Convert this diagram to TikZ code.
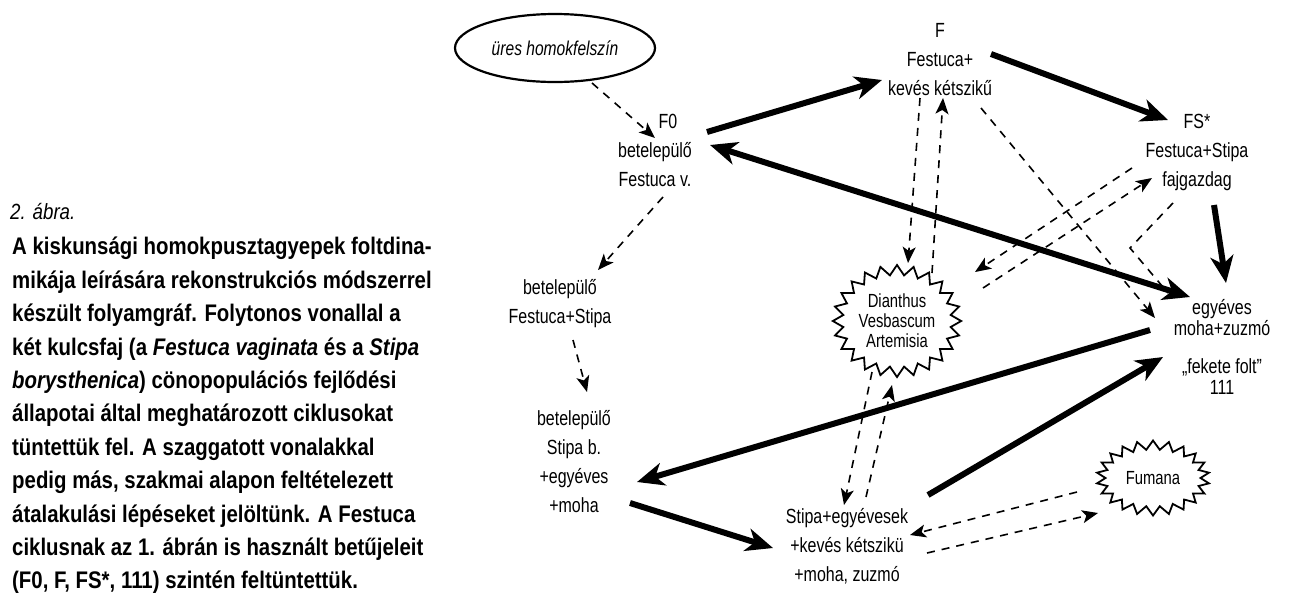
\documentclass[tikz,border=0pt]{standalone}
\usepackage{fontspec}
\setmainfont{Liberation Sans}[FakeStretch=0.78]
\newfontfamily\capfont{Liberation Sans}[FakeStretch=0.85]
\usetikzlibrary{arrows.meta,shapes.geometric,shapes.symbols,calc}
\begin{document}
\begin{tikzpicture}[x=1pt,y=-1pt,
  lbl/.style={align=center,inner sep=0pt,font=\fontsize{20.5}{29}\selectfont},
  oval/.style={ellipse,draw,line width=2.2pt,minimum width=200pt,minimum height=68pt,inner sep=0pt,font=\fontsize{20}{22}\selectfont\itshape},
  burst/.style={starburst,draw,line width=1.8pt,starburst point height=10pt,random starburst=0,inner sep=0pt,align=center,font=\fontsize{19}{20}\selectfont},
  thk/.style={line width=6pt,-{Stealth[length=27pt,width=23pt,inset=8pt]}},
  thkboth/.style={line width=6pt,{Stealth[length=27pt,width=23pt,inset=8pt]}-{Stealth[length=27pt,width=23pt,inset=8pt]}},
  dsh/.style={line width=1.6pt,dash pattern=on 8pt off 7pt,-{Stealth[length=16pt,width=13pt,inset=4pt]}},
  dshplain/.style={line width=1.6pt,dash pattern=on 8pt off 7pt}
]
\useasboundingbox (0,0) rectangle (1292,598);

% caption
\node[anchor=base west,inner sep=0pt,font=\capfont\fontsize{22}{26}\selectfont\itshape] (fig) at (10,219) {2. ábra.};
\node[anchor=north west,inner sep=0pt,align=left,font=\capfont\bfseries\fontsize{24}{33.4}\selectfont] (cap) at (12,237)
{A kiskunsági homokpusztagyepek foltdina-\\
mikája leírására rekonstrukciós módszerrel\\
készült folyamgráf. Folytonos vonallal a\\
két kulcsfaj (a {\itshape Festuca vaginata} és a {\itshape Stipa}\\
{\itshape borysthenica}) cönopopulációs fejlődési\\
állapotai által meghatározott ciklusokat\\
tüntettük fel. A szaggatott vonalakkal\\
pedig más, szakmai alapon feltételezett\\
átalakulási lépéseket jelöltünk. A Festuca\\
ciklusnak az 1. ábrán is használt betűjeleit\\
(F0, F, FS*, 111) szintén feltüntettük.};

% nodes
\node[oval] (E) at (555,48) {üres homokfelszín};
\node[lbl] (F0) at (655,150) {\hspace*{26pt}F0\\betelepülő\\Festuca v.};
\node[lbl] (F) at (940,60) {F\\Festuca+\\kevés kétszikű};
\node[lbl] (FS) at (1197,152) {FS*\\Festuca+Stipa\\fajgazdag};
\node[lbl] (BFS) at (560,304) {betelepülő\\Festuca+Stipa};
\node[lbl] (BSB) at (574,462) {betelepülő\\Stipa b.\\+egyéves\\+moha};
\node[lbl] (SE) at (847,546) {Stipa+egyévesek\\+kevés kétszikü\\+moha, zuzmó};
\node[lbl,font=\fontsize{20.5}{21}\selectfont] (EG) at (1222,347) {egyéves\\moha+zuzmó\\[17pt]„fekete folt”\\111};
\node[burst,starburst points=24,minimum width=125pt,minimum height=112pt] (D) at (897,321) {Dianthus\\Vesbascum\\Artemisia};
\node[burst,starburst points=22,starburst point height=9pt,minimum width=113pt,minimum height=75pt] (FU) at (1153,478) {Fumana};

% thick connectors (key species cycles)
\draw[thk] ($(F0)+(52,-18)$) -- ($(F)+(-58,20)$);
\draw[thk] ($(F)+(51,-6)$) -- ($(FS)+(-29,-32)$);
\draw[thk] ($(FS)+(17,53)$) -- ($(EG)+(4,-64)$);
\draw[thkboth] ($(F0)+(55,-5)$) -- ($(EG)+(-32,-50)$);
\draw[thk] ($(EG)+(-72,-17)$) -- ($(BSB)+(63,20)$);
\draw[thk] ($(BSB)+(56,41)$) -- ($(SE)+(-74,2)$);
\draw[thk] ($(SE)+(81,-51)$) -- ($(EG)+(-59,10)$);

% dashed connectors
\draw[dsh] ($(E)+(37,35)$) -- ($(F0)+(0,-12)$);
\draw[dsh] ($(F0)+(8,47)$) -- ($(BFS)+(38,-34)$);
\draw[dsh] ($(BFS)+(13,36)$) -- ($(BSB)+(13,-70)$);
\draw[dsh] ($(F)+(-20,38)$) -- ($(D)+(11,-58)$);
\draw[dsh] ($(D)+(35,-48)$) -- ($(F)+(3,38)$);
\draw[dsh] ($(F)+(41,48)$) -- ($(EG)+(-67,-29)$);
\draw[dsh] ($(FS)+(-65,16)$) -- ($(D)+(78,-49)$);
\draw[dsh] ($(D)+(86,-33)$) -- ($(FS)+(-45,26)$);
\draw[dshplain] ($(FS)+(-24,51)$) -- ($(FS)+(-67,96)$) -- ($(EG)+(-54,-54)$);
\draw[dsh] ($(FU)+(-76,14)$) -- ($(SE)+(63,-11)$);
\draw[dsh] ($(SE)+(80,7)$) -- ($(FU)+(-55,35)$);
\draw[dsh] ($(D)+(-25,51)$) -- ($(SE)+(-3,-41)$);
\draw[dsh] ($(SE)+(19,-49)$) -- ($(D)+(-5,64)$);
\end{tikzpicture}
\end{document}
